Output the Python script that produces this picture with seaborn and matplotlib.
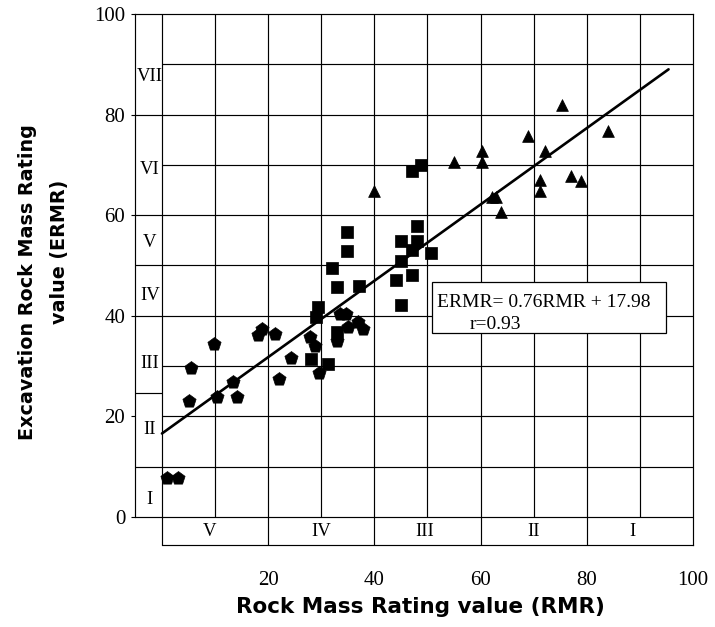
import matplotlib
matplotlib.use("Agg")
import matplotlib.pyplot as plt
from matplotlib.patches import Rectangle
import seaborn as sns
import pandas as pd

# ---- data ----
pent_rmr = [0.9, 3.1, 5.1, 5.4, 9.8, 10.4, 13.3, 14.1, 18.1, 18.9, 21.3, 24.3, 22.0,
            33.5, 34.7, 37.0, 35.1, 37.8, 33.0, 27.9, 28.8, 29.6]
pent_ermr = [7.7, 7.7, 23.1, 29.6, 34.3, 23.8, 26.9, 23.8, 36.2, 37.3, 36.4, 31.7, 27.4,
             40.3, 40.3, 38.8, 37.7, 37.3, 34.9, 35.7, 33.9, 28.7]

sq_rmr = [34.8, 34.8, 32.1, 32.9, 37.1, 29.3, 29.0, 32.9, 28.0, 31.3, 45.1, 45.1, 44.1,
          45.1, 47.0, 48.7, 48.1, 48.1, 47.0, 50.6, 47.0]
sq_ermr = [56.7, 52.9, 49.6, 45.8, 45.9, 41.7, 39.8, 36.8, 31.5, 30.4, 54.9, 50.8, 47.1,
           42.1, 68.8, 70.0, 57.9, 54.9, 53.1, 52.4, 48.1]

tri_rmr = [39.9, 54.9, 60.2, 60.2, 69.0, 75.3, 72.1, 84.0, 71.1, 71.1, 77.0, 78.9,
           62.1, 62.9, 63.8]
tri_ermr = [64.9, 70.6, 72.8, 70.6, 75.7, 81.9, 72.8, 76.8, 67.0, 64.9, 67.8, 66.8,
            63.7, 63.7, 60.7]

fit_x = [0, 95.4]
fit_y = [16.6, 89.0]
equation = "ERMR= 0.76RMR + 17.98"
r_text = "r=0.93"

ermr_classes = ["I", "II", "III", "IV", "V", "VI", "VII"]
ermr_class_pos = [3.4, 17.3, 30.6, 44.0, 54.5, 69.0, 87.5]
ermr_bounds = [10, 24.6, 40, 50, 60, 80]

rmr_classes = ["V", "IV", "III", "II", "I"]
rmr_class_pos = [9.0, 30.0, 49.5, 70.0, 88.6]
rmr_bounds = [20, 40, 60, 80]

grid_vals = [10, 20, 30, 40, 50, 60, 70, 80, 90]
xticks = [20, 40, 60, 80, 100]
yticks = [0, 20, 40, 60, 80, 100]

df = pd.concat([
    pd.DataFrame({"RMR": pent_rmr, "ERMR": pent_ermr, "g": "p"}),
    pd.DataFrame({"RMR": sq_rmr, "ERMR": sq_ermr, "g": "s"}),
    pd.DataFrame({"RMR": tri_rmr, "ERMR": tri_ermr, "g": "t"}),
], ignore_index=True)

sns.set_style("white")
plt.rcParams["font.family"] = ["Liberation Serif", "DejaVu Serif"]
plt.rcParams["text.color"] = "black"
plt.rcParams["xtick.color"] = "black"
plt.rcParams["ytick.color"] = "black"
plt.rcParams["axes.labelcolor"] = "black"

fig = plt.figure(figsize=(7.15, 6.27), dpi=100)
ax = fig.add_axes([135 / 715, 1 - 545 / 627, (693 - 135) / 715, (545 - 14) / 627])
XL, YL = -5.08, -5.57
ax.set_xlim(XL, 100)
ax.set_ylim(YL, 100)

lw = 0.85
# inner grid
ax.vlines(grid_vals, 0, 100, color="black", lw=lw, zorder=1)
ax.hlines(grid_vals, 0, 100, color="black", lw=lw, zorder=1)
ax.vlines([0], YL, 100, color="black", lw=lw, zorder=1)
ax.hlines([0], XL, 100, color="black", lw=lw, zorder=1)
# class boundaries in the margins
ax.vlines(rmr_bounds, YL, 0, color="black", lw=lw, zorder=1)
ax.hlines(ermr_bounds, XL, 0, color="black", lw=lw, zorder=1)

for sp in ax.spines.values():
    sp.set_color("black")
    sp.set_linewidth(lw)
ax.spines["left"].set_bounds(0, 100)
ax.spines["bottom"].set_bounds(0, 100)

# data
kw = dict(color="black", edgecolor="black", linewidth=0.5, legend=False, zorder=3)
sns.scatterplot(data=df[df.g == "p"], x="RMR", y="ERMR", marker="p", s=100, ax=ax, **kw)
sns.scatterplot(data=df[df.g == "s"], x="RMR", y="ERMR", marker="s", s=64, ax=ax, **kw)
sns.scatterplot(data=df[df.g == "t"], x="RMR", y="ERMR", marker="^", s=72, ax=ax, **kw)

sns.lineplot(x=fit_x, y=fit_y, ax=ax, color="black", lw=1.9, zorder=4)

# equation box
ax.add_patch(Rectangle((50.8, 36.5), 44.1, 10.3, facecolor="white",
                       edgecolor="black", lw=0.9, zorder=5))
ax.text(51.7, 42.6, equation, fontsize=14, va="center", ha="left", zorder=6)
ax.text(58.0, 38.2, r_text, fontsize=14, va="center", ha="left", zorder=6)

# class labels
for lab, yv in zip(ermr_classes, ermr_class_pos):
    ax.text(-2.3, yv, lab, fontsize=13.5, ha="center", va="center")
for lab, xv in zip(rmr_classes, rmr_class_pos):
    ax.text(xv, -2.9, lab, fontsize=13.5, ha="center", va="center")

ax.set_xticks(xticks)
ax.set_xticklabels([str(v) for v in xticks])
ax.set_yticks(yticks)
ax.set_yticklabels([str(v) for v in yticks])
ax.tick_params(axis="x", length=0, pad=19, labelsize=15)
ax.tick_params(axis="y", length=3, direction="out", pad=4, labelsize=15, left=True)
ax.set_xlabel("")
ax.set_ylabel("")

fig.text(420 / 715, 1 - 607 / 627, "Rock Mass Rating value (RMR)", ha="center",
         va="center", family=["DejaVu Sans"], fontweight="bold", fontsize=15.5)
ylab_font = dict(family=["DejaVu Sans"], fontweight="bold", fontsize=13.8)
fig.text(28 / 715, 1 - 282 / 627, "Excavation Rock Mass Rating", ha="center",
         va="center", rotation=90, **ylab_font)
fig.text(59 / 715, 1 - 252 / 627, "value (ERMR)", ha="center", va="center",
         rotation=90, **ylab_font)

fig.savefig("out.png", dpi=100, facecolor="white")
